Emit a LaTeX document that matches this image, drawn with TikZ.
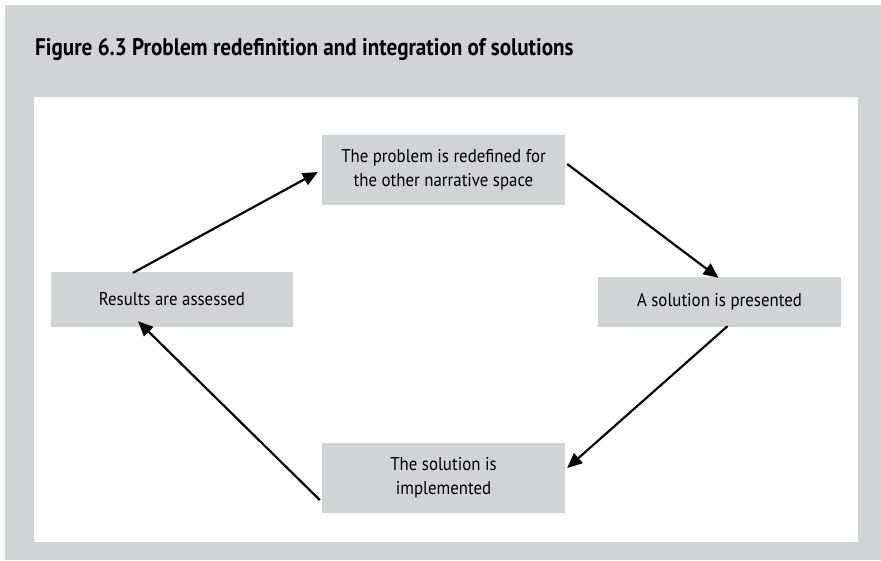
\documentclass[tikz,border=0pt]{standalone}
\usepackage{fontspec}
\setmainfont{PT Sans}
\newfontfamily\boxfont[FakeStretch=0.91]{PT Sans}
\newfontfamily\titlefont[FakeStretch=0.88]{PT Sans}
\usetikzlibrary{arrows.meta}
\definecolor{panelgray}{HTML}{D1D3D4}
\definecolor{boxgray}{HTML}{D1D3D4}
\tikzset{
  stepbox/.style={fill=boxgray, draw=none, align=center, inner sep=0pt,
    font=\boxfont\fontsize{18.5}{24.5}\selectfont, text=black},
  flow/.style={line width=2.2pt, -{Triangle[length=15pt,width=13pt]}},
}
\begin{document}
\begin{tikzpicture}[x=1pt,y=-1pt]
\useasboundingbox (0,0) rectangle (881,560);
\fill[white] (0,0) rectangle (881,560);
\fill[panelgray] (5,5) rectangle (881,560);
\fill[white] (34,97) rectangle (858,542);
\node[anchor=base west, inner sep=0pt, font=\titlefont\fontsize{24}{28}\bfseries\selectfont] (title) at (35,55)
  {Figure 6.3 Problem redefinition and integration of solutions};
\node[stepbox, minimum width=243pt, minimum height=70pt] (T) at (443.5,170)
  {The problem is redefined for\\the other narrative space};
\node[stepbox, minimum width=242pt, minimum height=55pt] (L) at (172,299.5)
  {Results are assessed};
\node[stepbox, minimum width=243pt, minimum height=50pt] (R) at (719.5,302)
  {A solution is presented};
\node[stepbox, minimum width=243pt, minimum height=70pt] (B) at (443.5,478)
  {The solution is\\implemented};
\draw[flow] ([xshift=-39pt,yshift=-1pt]L.north) -- ([xshift=-4pt,yshift=-2pt]T.west);
\draw[flow] ([xshift=2pt,yshift=6pt]T.east) -- ([xshift=-1pt,yshift=-1pt]R.north);
\draw[flow] ([xshift=8pt,yshift=1pt]R.south) -- ([xshift=2pt,yshift=10pt]B.east);
\draw[flow] ([xshift=-2pt,yshift=-22pt]B.west) -- ([xshift=-34pt,yshift=6pt]L.south);
\end{tikzpicture}
\end{document}
